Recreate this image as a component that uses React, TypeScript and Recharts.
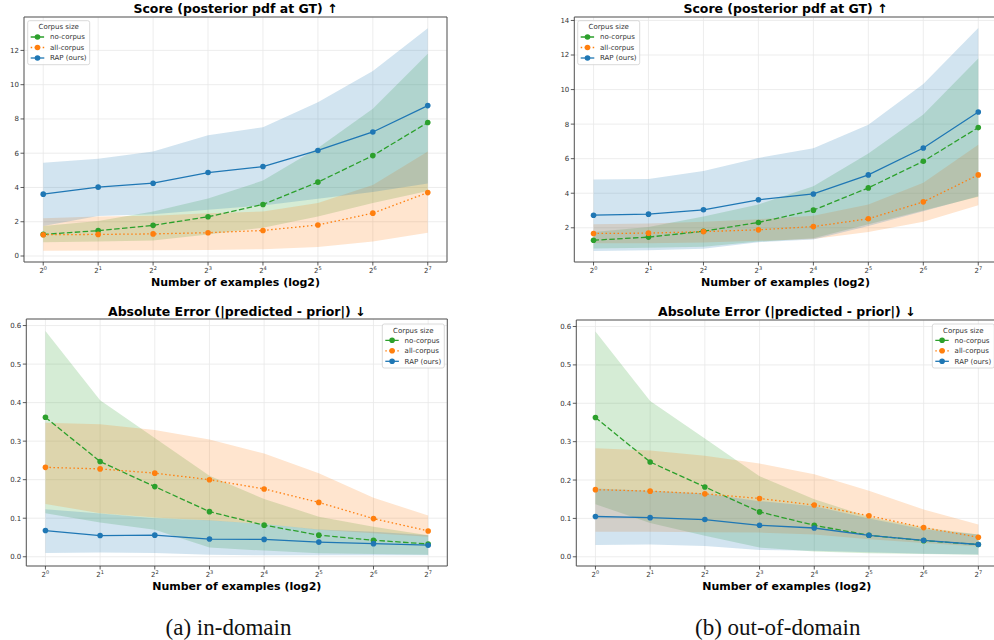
import React from 'react'
import {
  ComposedChart,
  Area,
  Line,
  XAxis,
  YAxis,
  CartesianGrid,
  ReferenceArea,
} from 'recharts'

// x positions are log2 of the number of examples
const xs = [0, 1, 2, 3, 4, 5, 6, 7]

// (a) in-domain, score
const inScoreNoMean = [1.26, 1.48, 1.79, 2.29, 3.01, 4.31, 5.86, 7.79]
const inScoreNoLo = [0.8, 0.85, 0.9, 1.25, 1.65, 2.3, 3.1, 3.8]
const inScoreNoHi = [1.75, 2.05, 2.6, 3.35, 4.4, 6.3, 8.6, 11.8]
const inScoreAllMean = [1.24, 1.26, 1.29, 1.36, 1.49, 1.81, 2.5, 3.7]
const inScoreAllLo = [0.3, 0.32, 0.33, 0.35, 0.4, 0.52, 0.85, 1.35]
const inScoreAllHi = [2.2, 2.3, 2.35, 2.5, 2.6, 3.1, 4.15, 6.1]
const inScoreRapMean = [3.61, 4.02, 4.25, 4.87, 5.22, 6.16, 7.24, 8.78]
const inScoreRapLo = [1.75, 2.33, 2.43, 2.7, 2.95, 3.34, 3.73, 4.23]
const inScoreRapHi = [5.44, 5.67, 6.1, 7.05, 7.51, 8.97, 10.8, 13.3]

// (b) out-of-domain, score
const outScoreNoMean = [1.28, 1.46, 1.8, 2.31, 3.02, 4.31, 5.85, 7.8]
const outScoreNoLo = [0.8, 0.85, 0.9, 1.2, 1.4, 2.2, 3.0, 3.8]
const outScoreNoHi = [1.75, 2.05, 2.65, 3.35, 4.4, 6.3, 8.55, 11.8]
const outScoreAllMean = [1.67, 1.69, 1.78, 1.88, 2.07, 2.52, 3.5, 5.06]
const outScoreAllLo = [1.1, 1.1, 1.15, 1.25, 1.35, 1.75, 2.35, 3.3]
const outScoreAllHi = [2.2, 2.25, 2.35, 2.5, 2.7, 3.35, 4.6, 6.8]
const outScoreRapMean = [2.73, 2.79, 3.04, 3.62, 3.96, 5.06, 6.62, 8.7]
const outScoreRapLo = [0.65, 0.7, 0.78, 1.17, 1.32, 2.1, 2.96, 3.83]
const outScoreRapHi = [4.79, 4.83, 5.29, 6.04, 6.6, 7.97, 10.32, 13.56]

// (a) in-domain, absolute error
const inErrNoMean = [0.362, 0.247, 0.182, 0.117, 0.082, 0.056, 0.043, 0.033]
const inErrNoLo = [0.113, 0.089, 0.07, 0.024, 0.016, 0.009, 0.007, 0.005]
const inErrNoHi = [0.586, 0.406, 0.308, 0.21, 0.15, 0.104, 0.078, 0.056]
const inErrAllMean = [0.232, 0.228, 0.217, 0.2, 0.176, 0.141, 0.099, 0.067]
const inErrAllLo = [0.137, 0.113, 0.102, 0.094, 0.085, 0.07, 0.061, 0.052]
const inErrAllHi = [0.348, 0.344, 0.329, 0.304, 0.268, 0.217, 0.153, 0.107]
const inErrRapMean = [0.068, 0.055, 0.056, 0.046, 0.045, 0.038, 0.034, 0.03]
const inErrRapLo = [0.01, 0.011, 0.01, 0.005, 0.004, 0.004, 0.004, 0.004]
const inErrRapHi = [0.123, 0.112, 0.1, 0.095, 0.085, 0.071, 0.065, 0.056]

// (b) out-of-domain, absolute error
const outErrNoMean = [0.363, 0.247, 0.182, 0.117, 0.082, 0.056, 0.042, 0.032]
const outErrNoLo = [0.137, 0.088, 0.055, 0.024, 0.014, 0.009, 0.007, 0.005]
const outErrNoHi = [0.587, 0.406, 0.308, 0.21, 0.15, 0.104, 0.076, 0.058]
const outErrAllMean = [0.175, 0.171, 0.164, 0.152, 0.135, 0.107, 0.076, 0.051]
const outErrAllLo = [0.065, 0.065, 0.064, 0.063, 0.058, 0.046, 0.036, 0.027]
const outErrAllHi = [0.283, 0.277, 0.263, 0.243, 0.215, 0.172, 0.123, 0.084]
const outErrRapMean = [0.105, 0.102, 0.097, 0.082, 0.075, 0.056, 0.043, 0.032]
const outErrRapLo = [0.031, 0.032, 0.028, 0.018, 0.016, 0.012, 0.008, 0.006]
const outErrRapHi = [0.178, 0.172, 0.165, 0.145, 0.132, 0.1, 0.072, 0.058]

const scoreTicksIn = [0, 2, 4, 6, 8, 10, 12]
const scoreTicksOut = [2, 4, 6, 8, 10, 12, 14]
const errTicks = [0, 0.1, 0.2, 0.3, 0.4, 0.5, 0.6]

const legendLabels = ['no-corpus', 'all-corpus', 'RAP (ours)']
const scoreTitle = 'Score (posterior pdf at GT) \u2191'
const errTitle = 'Absolute Error (|predicted - prior|) \u2193'
const xLabel = 'Number of examples (log2)'

const GREEN = '#2ca02c'
const ORANGE = '#ff7f0e'
const BLUE = '#1f77b4'
const FONT = '"DejaVu Sans", sans-serif'

function makeRows(
  noMean: number[], noLo: number[], noHi: number[],
  allMean: number[], allLo: number[], allHi: number[],
  rapMean: number[], rapLo: number[], rapHi: number[],
) {
  return xs.map((x, i) => ({
    x,
    noMean: noMean[i],
    noBand: [noLo[i], noHi[i]],
    allMean: allMean[i],
    allBand: [allLo[i], allHi[i]],
    rapMean: rapMean[i],
    rapBand: [rapLo[i], rapHi[i]],
  }))
}

const ExpTick = (props: any) => {
  const { x, y, payload } = props
  return (
    <text x={x} y={y} dy={5.5} textAnchor="middle" fontSize={7} fill="#333" fontFamily={FONT}>
      <tspan>2</tspan>
      <tspan fontSize={5} dy={-3}>{payload.value}</tspan>
    </text>
  )
}

interface PanelProps {
  rows: any[]
  left: number
  top: number
  width: number
  margin: { top: number; right: number; left: number; bottom: number }
  yWidth: number
  xHeight: number
  yDomain: [number, number]
  yTicks: number[]
  yFmt?: (v: number) => string
}

function Panel({ rows, left, top, width, margin, yWidth, xHeight, yDomain, yTicks, yFmt }: PanelProps) {
  return (
    <div style={{ position: 'absolute', left, top }}>
      <ComposedChart width={width} height={300} data={rows} margin={margin} style={{ fontFamily: FONT }}>
        <CartesianGrid stroke="#e8e8e8" strokeWidth={0.8} />
        <XAxis
          type="number"
          dataKey="x"
          domain={[-0.35, 7.35]}
          ticks={xs}
          height={xHeight}
          axisLine={false}
          tickSize={3.5}
          tickMargin={2}
          tickLine={{ stroke: '#333', strokeWidth: 0.8 }}
          tick={<ExpTick />}
          interval={0}
        />
        <YAxis
          type="number"
          domain={yDomain}
          ticks={yTicks}
          width={yWidth}
          axisLine={false}
          tickSize={3.5}
          tickMargin={1.5}
          tickLine={{ stroke: '#333', strokeWidth: 0.8 }}
          tick={{ fontSize: 7, fill: '#333', fontFamily: FONT }}
          tickFormatter={yFmt}
          interval={0}
          allowDataOverflow
        />
        <Area type="linear" dataKey="noBand" stroke="none" fill={GREEN} fillOpacity={0.2} isAnimationActive={false} />
        <Area type="linear" dataKey="allBand" stroke="none" fill={ORANGE} fillOpacity={0.2} isAnimationActive={false} />
        <Area type="linear" dataKey="rapBand" stroke="none" fill={BLUE} fillOpacity={0.2} isAnimationActive={false} />
        <Line
          type="linear"
          dataKey="noMean"
          stroke={GREEN}
          strokeWidth={1.3}
          strokeDasharray="5.5 2.4"
          dot={{ r: 2.8, fill: GREEN, stroke: 'none' }}
          isAnimationActive={false}
        />
        <Line
          type="linear"
          dataKey="allMean"
          stroke={ORANGE}
          strokeWidth={1.3}
          strokeDasharray="1.5 2.5"
          dot={{ r: 2.8, fill: ORANGE, stroke: 'none' }}
          isAnimationActive={false}
        />
        <Line
          type="linear"
          dataKey="rapMean"
          stroke={BLUE}
          strokeWidth={1.3}
          dot={{ r: 2.8, fill: BLUE, stroke: 'none' }}
          isAnimationActive={false}
        />
        <ReferenceArea
          x1={-0.35}
          x2={7.35}
          y1={yDomain[0]}
          y2={yDomain[1]}
          fill="none"
          stroke="#555"
          strokeWidth={1}
          ifOverflow="visible"
        />
      </ComposedChart>
    </div>
  )
}

function LegendBox({ x, y }: { x: number; y: number }) {
  const colors = [GREEN, ORANGE, BLUE]
  const dashes = ['5.5 2.4', '1.5 2.5', undefined]
  return (
    <g transform={`translate(${x},${y})`} fontFamily={FONT}>
      <rect x={0} y={0} width={62} height={44} rx={2} fill="#fff" fillOpacity={0.85} stroke="#d0d0d0" strokeWidth={0.8} />
      <text x={31} y={8.5} textAnchor="middle" fontSize={7} fill="#333">Corpus size</text>
      {legendLabels.map((label, i) => {
        const cy = 16.3 + 10.5 * i
        return (
          <g key={label}>
            <line x1={3} x2={16.6} y1={cy} y2={cy} stroke={colors[i]} strokeWidth={1.3} strokeDasharray={dashes[i]} />
            <circle cx={9.8} cy={cy} r={2.8} fill={colors[i]} />
            <text x={22.3} y={cy + 2.5} fontSize={7} fill="#333">{label}</text>
          </g>
        )
      })}
    </g>
  )
}

const fmtErr = (v: number) => v.toFixed(1)

export default function App() {
  const rowsA = makeRows(inScoreNoMean, inScoreNoLo, inScoreNoHi, inScoreAllMean, inScoreAllLo, inScoreAllHi, inScoreRapMean, inScoreRapLo, inScoreRapHi)
  const rowsB = makeRows(outScoreNoMean, outScoreNoLo, outScoreNoHi, outScoreAllMean, outScoreAllLo, outScoreAllHi, outScoreRapMean, outScoreRapLo, outScoreRapHi)
  const rowsC = makeRows(inErrNoMean, inErrNoLo, inErrNoHi, inErrAllMean, inErrAllLo, inErrAllHi, inErrRapMean, inErrRapLo, inErrRapHi)
  const rowsD = makeRows(outErrNoMean, outErrNoLo, outErrNoHi, outErrAllMean, outErrAllLo, outErrAllHi, outErrRapMean, outErrRapLo, outErrRapHi)

  return (
    <div style={{ position: 'absolute', left: 0, top: 0, width: 994, height: 640, overflow: 'hidden', background: '#fff' }}>
      <Panel rows={rowsA} left={0} top={0} width={460} margin={{ top: 17, right: 13, left: 0, bottom: 0 }} yWidth={24} xHeight={38} yDomain={[-0.35, 13.95]} yTicks={scoreTicksIn} />
      <Panel rows={rowsB} left={500} top={0} width={500} margin={{ top: 17, right: 2.5, left: 50, bottom: 0 }} yWidth={24.3} xHeight={38} yDomain={[0.02, 14.2]} yTicks={scoreTicksOut} />
      <Panel rows={rowsC} left={0} top={300} width={460} margin={{ top: 19, right: 12.7, left: 0, bottom: 0 }} yWidth={26.3} xHeight={34} yDomain={[-0.024, 0.617]} yTicks={errTicks} yFmt={fmtErr} />
      <Panel rows={rowsD} left={500} top={300} width={500} margin={{ top: 20, right: 2.5, left: 50, bottom: 0 }} yWidth={26.3} xHeight={34} yDomain={[-0.024, 0.617]} yTicks={errTicks} yFmt={fmtErr} />

      <svg width={994} height={640} style={{ position: 'absolute', left: 0, top: 0, pointerEvents: 'none' }}>
        <g fontFamily={FONT} fontWeight="bold" fill="#000" textAnchor="middle">
          <text x={235.5} y={13} fontSize={12.5}>{scoreTitle}</text>
          <text x={785.5} y={13} fontSize={12.5}>{scoreTitle}</text>
          <text x={236.8} y={316} fontSize={12.5}>{errTitle}</text>
          <text x={786.8} y={316} fontSize={12.5}>{errTitle}</text>
          <text x={235.5} y={285.5} fontSize={11}>{xLabel}</text>
          <text x={785.5} y={285.5} fontSize={11}>{xLabel}</text>
          <text x={236.8} y={589.5} fontSize={11}>{xLabel}</text>
          <text x={786.8} y={589.5} fontSize={11}>{xLabel}</text>
        </g>
        <LegendBox x={27.7} y={20.7} />
        <LegendBox x={577.7} y={20.7} />
        <LegendBox x={382.3} y={324} />
        <LegendBox x={932.3} y={324} />
        <g fontFamily='"Liberation Serif", "Times New Roman", serif' fontSize={23} fill="#111" textAnchor="middle">
          <text x={228.5} y={635}>(a) in-domain</text>
          <text x={777.7} y={635}>(b) out-of-domain</text>
        </g>
      </svg>
    </div>
  )
}
